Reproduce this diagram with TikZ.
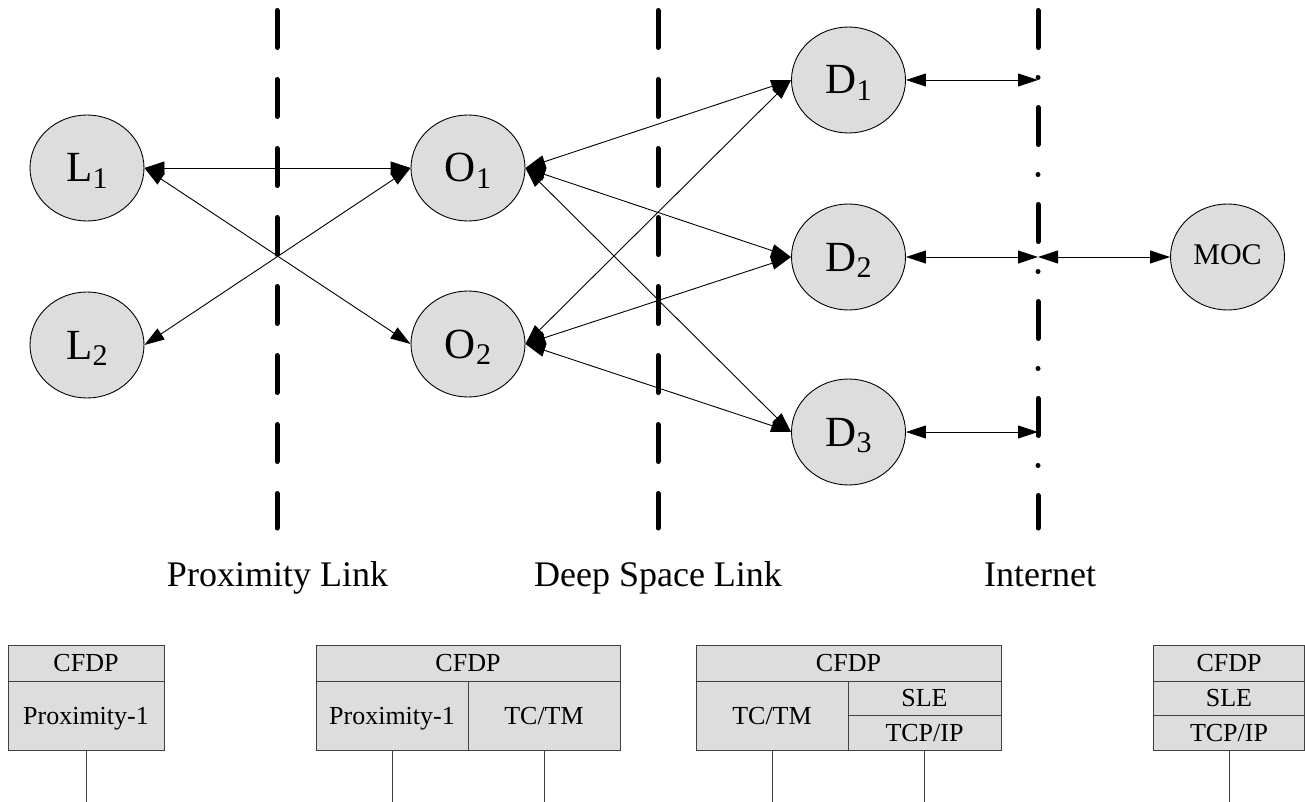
\documentclass[tikz,border=0pt]{standalone}
\usepackage{fontspec}
\setmainfont{Liberation Serif}
\usetikzlibrary{shapes.geometric,arrows.meta}
\definecolor{nodefill}{RGB}{221,221,221}
\newcommand\lsub[1]{\raisebox{-6.5pt}{\fontsize{30}{30}\selectfont #1}}
\begin{document}
\begin{tikzpicture}[x=1pt,y=-1pt,
  site/.style={ellipse,draw=black,line width=0.9pt,fill=nodefill,minimum width=114pt,minimum height=106pt,inner sep=0pt,text height=28pt,text depth=0pt,font=\fontsize{43}{43}\selectfont},
  moc/.style={site,text height=16pt,font=\fontsize{30}{30}\selectfont},
  link/.style={line width=0.9pt,{Triangle[length=20pt,width=13pt]}-{Triangle[length=20pt,width=13pt]}},
  divider/.style={line width=5pt,line cap=round,dash pattern=on 37pt off 32pt},
  divdot/.style={line width=5pt,line cap=round,dash pattern=on 37pt off 30pt on 0pt off 30pt},
  region/.style={font=\fontsize{36}{36}\selectfont,anchor=base,inner sep=0pt},
  cell/.style={draw=black!75,line width=1pt,fill=nodefill,inner sep=0pt,text height=17pt,text depth=0pt,font=\fontsize{26}{26}\selectfont},
  drop/.style={draw=black!75,line width=1pt}]
\useasboundingbox (0,0) rectangle (1305,802);
\coordinate (bot) at (0,802);

% dividers
\draw[divider] (277,10.5) -- (277,528);
\draw[divider] (658,10.5) -- (658,528);
\draw[divdot] (1038,10.5) -- (1038,528);

% nodes
\node[site] (L1) at (87,168) {L\lsub{1}};
\node[site] (L2) at (87,345) {L\lsub{2}};
\node[site] (O1) at (468,168) {O\lsub{1}};
\node[site] (O2) at (468,344) {O\lsub{2}};
\node[site] (D1) at (848.5,80) {D\lsub{1}};
\node[site] (D2) at (848.5,257) {D\lsub{2}};
\node[site] (D3) at (848.5,432) {D\lsub{3}};
\node[moc] (MOC) at (1227.5,257) {MOC};

\coordinate (i1) at (1038,80);
\coordinate (i2) at (1038,257);
\coordinate (i3) at (1038,432);

% links
\draw[link] (L1.east) -- (O1.west);
\draw[link] (L1.east) -- (O2.west);
\draw[link] (L2.east) -- (O1.west);
\draw[link] (O1.east) -- (D1.west);
\draw[link] (O1.east) -- (D2.west);
\draw[link] (O1.east) -- (D3.west);
\draw[link] (O2.east) -- (D1.west);
\draw[link] (O2.east) -- (D2.west);
\draw[link] (O2.east) -- (D3.west);
\draw[link] (D1.east) -- (i1);
\draw[link] (D2.east) -- (i2);
\draw[link] (i2) -- (MOC.west);
\draw[link] (D3.east) -- (i3);

% region labels
\node[region] (rl1) at (277.5,586) {Proximity Link};
\node[region] (rl2) at (658,586) {Deep Space Link};
\node[region] (rl3) at (1040,586) {Internet};

% protocol stacks
\node[cell,minimum width=156pt,minimum height=36pt] (a1) at (86,663) {CFDP};
\node[cell,minimum width=156pt,minimum height=69pt] (a2) at (86,715.5) {Proximity-1};

\node[cell,minimum width=304pt,minimum height=36pt] (b1) at (468,663) {CFDP};
\node[cell,minimum width=152pt,minimum height=69pt] (b2) at (392,715.5) {Proximity-1};
\node[cell,minimum width=152pt,minimum height=69pt] (b3) at (544,715.5) {TC/TM};

\node[cell,minimum width=305pt,minimum height=36pt] (c1) at (848.5,663) {CFDP};
\node[cell,minimum width=152pt,minimum height=69pt] (c2) at (772,715.5) {TC/TM};
\node[cell,minimum width=153pt,minimum height=34.5pt] (c3) at (924.5,698.25) {SLE};
\node[cell,minimum width=153pt,minimum height=34.5pt] (c4) at (924.5,732.75) {TCP/IP};

\node[cell,minimum width=151pt,minimum height=36pt] (d1) at (1229,663) {CFDP};
\node[cell,minimum width=151pt,minimum height=34.5pt] (d2) at (1229,698.25) {SLE};
\node[cell,minimum width=151pt,minimum height=34.5pt] (d3) at (1229,732.75) {TCP/IP};

\draw[drop] (a2.south) -- (a2.south |- bot);
\draw[drop] (b2.south) -- (b2.south |- bot);
\draw[drop] (b3.south) -- (b3.south |- bot);
\draw[drop] (c2.south) -- (c2.south |- bot);
\draw[drop] (c4.south) -- (c4.south |- bot);
\draw[drop] (d3.south) -- (d3.south |- bot);
\end{tikzpicture}
\end{document}
